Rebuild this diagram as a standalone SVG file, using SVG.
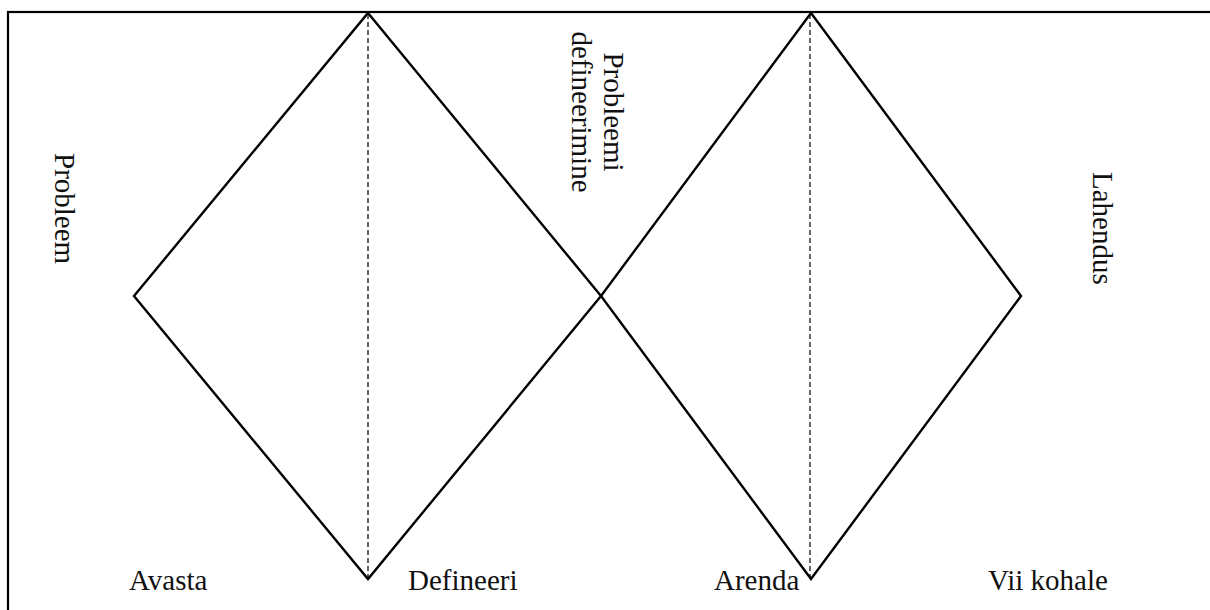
<svg xmlns="http://www.w3.org/2000/svg" width="1210" height="610" viewBox="0 0 1210 610">
<style>
.d{fill:none;stroke:#000;stroke-width:2.4;stroke-linejoin:miter}
.ax{stroke:#000;stroke-width:1.2;stroke-dasharray:5,3}
.t{font-family:"Liberation Serif","Times New Roman",serif;font-size:29px;fill:#111}
.m{text-anchor:middle}
</style>
<rect x="0" y="0" width="1210" height="610" fill="#fff"/>
<rect id="frame" x="8" y="12" width="1240" height="640" fill="none" stroke="#000" stroke-width="2.2"/>
<g id="diamond1">
<polygon class="d" points="368,13 601,296 368,579 134,296"/>
</g>
<g id="diamond2">
<polygon class="d" points="811,13 1021,296 811,579 601,296"/>
</g>
<g id="connectors">
<line class="ax" x1="368" y1="14" x2="368" y2="578"/>
<line class="ax" x1="810" y1="14" x2="810" y2="578"/>
</g>
<g id="labels">
<text class="t" transform="translate(55,153) rotate(90)">Probleem</text>
<text class="t m" transform="translate(604,112) rotate(90)">Probleemi</text>
<text class="t m" transform="translate(572,112) rotate(90)">defineerimine</text>
<text class="t" transform="translate(1093,172) rotate(90)">Lahendus</text>
<text class="t" x="129" y="590">Avasta</text>
<text class="t" x="408" y="590">Defineeri</text>
<text class="t" x="714" y="590">Arenda</text>
<text class="t" x="988" y="590">Vii kohale</text>
</g>
</svg>
